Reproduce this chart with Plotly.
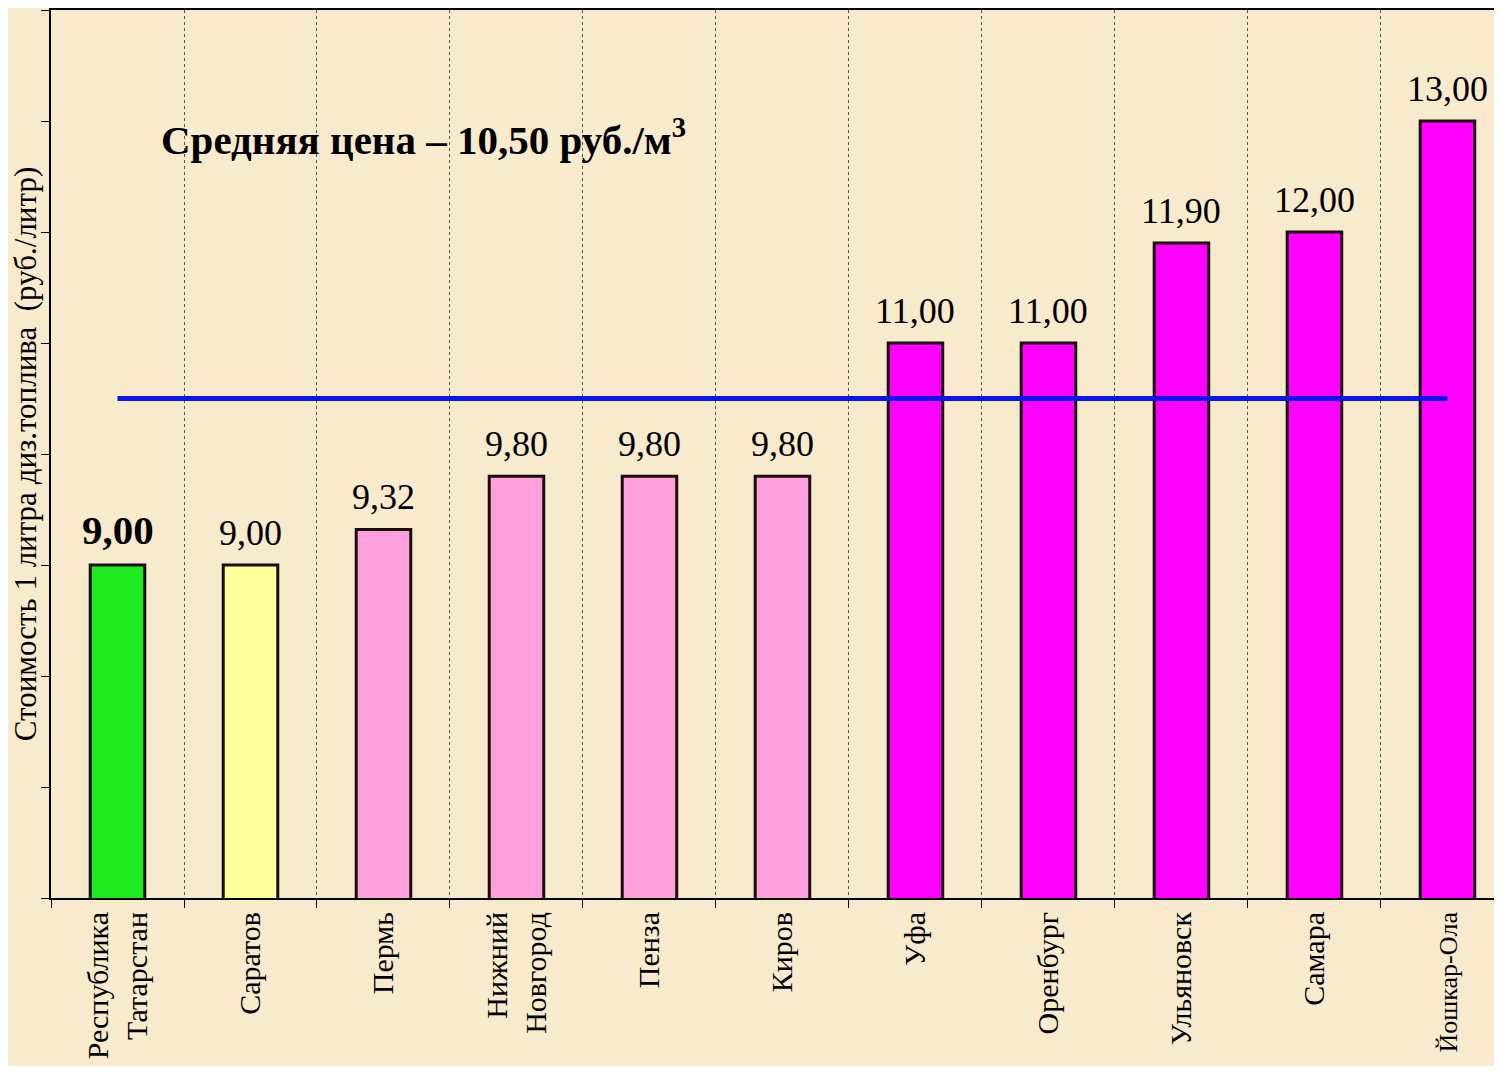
import plotly.graph_objects as go

# data
cities = ['Республика<br>Татарстан', 'Саратов', 'Пермь', 'Нижний<br>Новгород', 'Пенза',
          'Киров', 'Уфа', 'Оренбург', 'Ульяновск', 'Самара', 'Йошкар-Ола']
prices = [9.00, 9.00, 9.32, 9.80, 9.80, 9.80, 11.00, 11.00, 11.90, 12.00, 13.00]
price_labels = ['9,00', '9,00', '9,32', '9,80', '9,80', '9,80',
                '11,00', '11,00', '11,90', '12,00', '13,00']
bar_colors = ['#1EEB1E', '#FFFF9C', '#FFA0DC', '#FFA0DC', '#FFA0DC', '#FFA0DC',
              '#FF00FF', '#FF00FF', '#FF00FF', '#FF00FF', '#FF00FF']
avg_price = 10.50

SERIF = 'Liberation Serif, Times New Roman, serif'
BG = '#F7EACD'

fig = go.Figure()

fig.add_trace(go.Bar(
    x=cities,
    y=prices,
    width=0.41,
    marker=dict(color=bar_colors, line=dict(color='#1A0D0D', width=3)),
    showlegend=False,
    hoverinfo='x+y'
))

# average price line
fig.add_trace(go.Scatter(
    x=[cities[0], cities[-1]],
    y=[avg_price, avg_price],
    mode='lines',
    line=dict(color='#0A14F0', width=5),
    showlegend=False
))

# value labels above bars
for i, (c, v, lab) in enumerate(zip(cities, prices, price_labels)):
    fig.add_annotation(
        x=c, y=v, text=f'<b>{lab}</b>' if i == 0 else lab,
        showarrow=False, yanchor='bottom', yshift=10,
        font=dict(family=SERIF, size=41 if i == 0 else 36, color='black')
    )

fig.add_annotation(
    xref='paper', yref='paper', x=0.075, y=0.857, xanchor='left', yanchor='middle',
    text='<b>Средняя цена – 10,50 руб./м<sup>3</sup></b>', showarrow=False,
    font=dict(family=SERIF, size=41, color='black')
)

# the last label is long, shrink it a little so it fits the page
tick_text = cities[:-1] + [f'<span style="font-size:26px">{cities[-1]}</span>']

fig.update_xaxes(
    range=[-0.5, 10.35],
    automargin=False,
    tickmode='array', tickvals=cities, ticktext=tick_text,
    tickangle=-90,
    tickfont=dict(family=SERIF, size=30, color='black'),
    tickson='boundaries',
    ticks='outside', ticklen=8, tickcolor='black',
    showline=True, linecolor='black', linewidth=2, mirror=True,
    showgrid=True, gridcolor='#555555', gridwidth=1, griddash='dot'
)

fig.update_yaxes(
    range=[6, 14],
    dtick=1,
    automargin=False,
    showticklabels=False,
    ticks='outside', ticklen=8, tickcolor='black',
    showline=True, linecolor='black', linewidth=2,
    showgrid=False, zeroline=False,
    title=dict(text='Стоимость 1 литра диз.топлива  (руб./литр)', standoff=12,
               font=dict(family=SERIF, size=31, color='black'))
)

fig.update_layout(
    width=1486,
    height=1058,
    margin=dict(l=43, r=0, t=2, b=168),
    paper_bgcolor=BG,
    plot_bgcolor=BG,
    bargap=0.59
)

fig.write_html('out.html')
